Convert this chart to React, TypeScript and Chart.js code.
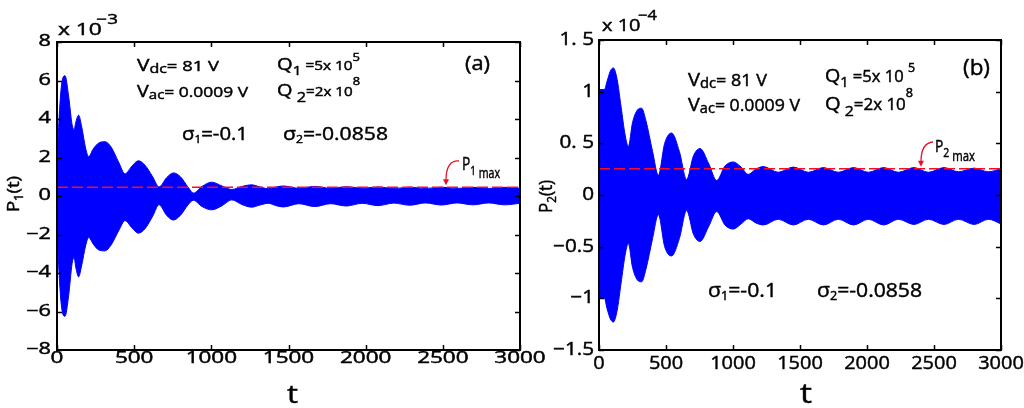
import React, { useEffect, useRef } from 'react';
import { Chart, registerables } from 'chart.js';

Chart.register(...registerables);

const FONT = '"Open Sans", "DejaVu Sans", sans-serif';

// ---------------- Panel (a): P1(t), units of 1e-3 ----------------
const tA = [0, 12, 30, 52, 75, 98, 110, 124, 140, 160, 185, 205, 235, 270, 311, 350, 400, 441, 485, 527, 570, 620, 661, 710, 754, 800, 850, 883, 940, 1002, 1070, 1132, 1200, 1261, 1315, 1368, 1420, 1466, 1568, 1670, 1772, 1875, 1977, 2080, 2182, 2285, 2387, 2490, 2592, 2695, 2797, 2900, 3000];
const upperA = [1.5, 3.8, 5.8, 6.25, 5.2, 3.7, 3.45, 3.9, 4.2, 3.6, 2.5, 2.05, 2.45, 2.75, 2.82, 2.55, 1.75, 1.15, 1.55, 1.83, 1.6, 1.0, 0.47, 0.95, 1.2, 1.0, 0.45, 0.15, 0.5, 0.72, 0.52, 0.34, 0.5, 0.58, 0.47, 0.38, 0.47, 0.52, 0.4, 0.5, 0.4, 0.48, 0.4, 0.47, 0.39, 0.46, 0.39, 0.46, 0.39, 0.45, 0.39, 0.45, 0.4];
const lowerA = [-1.5, -3.8, -5.8, -6.25, -5.2, -3.5, -3.2, -3.8, -4.2, -3.6, -2.6, -2.15, -2.5, -2.8, -2.85, -2.55, -1.8, -1.28, -1.65, -1.93, -1.7, -1.05, -0.45, -1.0, -1.25, -1.0, -0.45, -0.22, -0.55, -0.72, -0.5, -0.2, -0.45, -0.58, -0.47, -0.38, -0.5, -0.57, -0.4, -0.55, -0.4, -0.52, -0.38, -0.5, -0.37, -0.48, -0.36, -0.47, -0.36, -0.46, -0.36, -0.46, -0.38];
const pmaxA = 0.46;

// ---------------- Panel (b): P2(t), units of 1e-4 ----------------
const tB = [0, 40, 60, 85, 107, 135, 165, 195, 219, 250, 285, 318, 350, 400, 443, 490, 542, 600, 654, 705, 754, 820, 878, 940, 1002, 1060, 1114, 1170, 1226, 1338, 1450, 1562, 1675, 1786, 1900, 2010, 2125, 2234, 2350, 2458, 2575, 2682, 2800, 2906, 3000];
const upperB = [1.02, 1.02, 1.1, 1.2, 1.23, 1.12, 0.85, 0.58, 0.47, 0.7, 0.82, 0.84, 0.72, 0.42, 0.19, 0.5, 0.6, 0.42, 0.15, 0.38, 0.45, 0.3, 0.14, 0.28, 0.32, 0.27, 0.2, 0.25, 0.275, 0.22, 0.27, 0.22, 0.265, 0.22, 0.265, 0.22, 0.265, 0.22, 0.265, 0.22, 0.265, 0.225, 0.26, 0.225, 0.255];
const lowerB = [-1.0, -1.0, -1.1, -1.2, -1.23, -1.12, -0.85, -0.58, -0.47, -0.7, -0.82, -0.84, -0.72, -0.42, -0.19, -0.5, -0.59, -0.42, -0.15, -0.38, -0.45, -0.3, -0.16, -0.29, -0.33, -0.28, -0.23, -0.27, -0.29, -0.235, -0.29, -0.235, -0.29, -0.235, -0.29, -0.235, -0.29, -0.235, -0.285, -0.235, -0.285, -0.235, -0.285, -0.235, -0.28];
const pmaxB = 0.255;

// ---------------- Axes ----------------
const xTicks = [0, 500, 1000, 1500, 2000, 2500, 3000];
const xTickLabels = ['0', '500', '1000', '1500', '2000', '2500', '3000'];
const yTicksA = [-8, -6, -4, -2, 0, 2, 4, 6, 8];
const yTickLabelsA = ['−8', '−6', '−4', '−2', '0', '2', '4', '6', '8'];
const yTicksB = [-1.5, -1, -0.5, 0, 0.5, 1, 1.5];
const yTickLabelsB = ['−1.5', '−1', '−0.5', '0', '0. 5', '1', '1. 5'];

type Seg = { t: string; s: number; dy?: number; dx?: number };
type Label = { x: number; y: number; w?: number; rot?: boolean; color?: string; segs: Seg[] };

type PanelCfg = {
  t: number[];
  upper: number[];
  lower: number[];
  pmax: number;
  yMin: number;
  yMax: number;
  yTicks: number[];
  yTickLabels: string[];
  padding: { left: number; right: number; top: number; bottom: number };
  yTickRight: number;
  yTickSize: number;
  yTickSx: number;
  xTickY: number;
  xTickSize: number;
  xTickSx: number;
  labels: Label[];
  arrow: { sx: number; sy: number; cx: number; cy: number; ex: number };
};

const labelsA: Label[] = [
  { x: 58, y: 35, w: 60, segs: [{ t: 'x 10', s: 17 }, { t: '−3', s: 14, dy: -11, dx: -4 }] },
  { x: 137, y: 71, w: 82, segs: [{ t: 'V', s: 17 }, { t: 'dc', s: 13, dy: 2 }, { t: '= 81 V', s: 15 }] },
  { x: 137, y: 97, w: 111, segs: [{ t: 'V', s: 17 }, { t: 'ac', s: 13, dy: 2 }, { t: '= 0.0009 V', s: 15 }] },
  { x: 277, y: 70, w: 83, segs: [{ t: 'Q', s: 17 }, { t: '1', s: 13, dy: 5 }, { t: ' =5x 10', s: 13 }, { t: '5', s: 11, dy: -9 }] },
  { x: 277, y: 96, w: 83, segs: [{ t: 'Q', s: 17 }, { t: ' 2', s: 14, dy: 6 }, { t: '=2x 10', s: 13 }, { t: '8', s: 11, dy: -11 }] },
  { x: 465, y: 70, w: 25, segs: [{ t: '(a)', s: 20 }] },
  { x: 182, y: 140, w: 66, segs: [{ t: 'σ', s: 19 }, { t: '1', s: 11, dy: 3 }, { t: '=-0.1', s: 19 }] },
  { x: 283, y: 140, w: 105, segs: [{ t: 'σ', s: 19 }, { t: '2', s: 11, dy: 3 }, { t: '=-0.0858', s: 19 }] },
  { x: 462, y: 170, w: 38, segs: [{ t: 'P', s: 18 }, { t: '1', s: 13, dy: 5 }, { t: ' max', s: 14, dy: 8 }] },
  { x: 19, y: 212, w: 36, rot: true, segs: [{ t: 'P', s: 17 }, { t: '1', s: 12, dy: 4 }, { t: '(t)', s: 17 }] },
  { x: 287, y: 403, w: 11, segs: [{ t: 't', s: 25 }] },
];

const labelsB: Label[] = [
  { x: 602, y: 31, w: 55, segs: [{ t: 'x 10', s: 17 }, { t: '−4', s: 14, dy: -11, dx: -2 }] },
  { x: 688, y: 86, w: 79, segs: [{ t: 'V', s: 19 }, { t: 'dc', s: 14, dy: 2 }, { t: '= 81 V', s: 17 }] },
  { x: 688, y: 111, w: 112, segs: [{ t: 'V', s: 19 }, { t: 'ac', s: 14, dy: 2 }, { t: '= 0.0009 V', s: 17 }] },
  { x: 825, y: 82, w: 90, segs: [{ t: 'Q', s: 19 }, { t: '1', s: 14, dy: 5 }, { t: ' =5x 10 ', s: 16 }, { t: '5', s: 12, dy: -10 }] },
  { x: 825, y: 110, w: 88, segs: [{ t: 'Q', s: 19 }, { t: ' 2', s: 15, dy: 6 }, { t: '=2x 10', s: 16 }, { t: '8', s: 12, dy: -13 }] },
  { x: 963, y: 75, w: 27, segs: [{ t: '(b)', s: 22 }] },
  { x: 708, y: 297, w: 69, segs: [{ t: 'σ', s: 20 }, { t: '1', s: 12, dy: 3 }, { t: '=-0.1', s: 20 }] },
  { x: 817, y: 297, w: 105, segs: [{ t: 'σ', s: 20 }, { t: '2', s: 12, dy: 3 }, { t: '=-0.0858', s: 20 }] },
  { x: 935, y: 152, w: 40, segs: [{ t: 'P', s: 17 }, { t: '2', s: 13, dy: 5 }, { t: ' max', s: 14, dy: 9 }] },
  { x: 552, y: 213, w: 33, rot: true, segs: [{ t: 'P', s: 19 }, { t: '2', s: 13, dy: 4 }, { t: '(t)', s: 19 }] },
  { x: 800, y: 403, w: 12, segs: [{ t: 't', s: 27 }] },
];

const panelA: PanelCfg = {
  t: tA, upper: upperA, lower: lowerA, pmax: pmaxA, yMin: -8, yMax: 8,
  yTicks: yTicksA, yTickLabels: yTickLabelsA,
  padding: { left: 57, right: 504, top: 42, bottom: 58 },
  yTickRight: 51, yTickSize: 15.5, yTickSx: 1.4,
  xTickY: 359, xTickSize: 15.5, xTickSx: 1.45,
  labels: labelsA,
  arrow: { sx: 459, sy: 161, cx: 446, cy: 160, ex: 446 },
};

const panelB: PanelCfg = {
  t: tB, upper: upperB, lower: lowerB, pmax: pmaxB, yMin: -1.5, yMax: 1.5,
  yTicks: yTicksB, yTickLabels: yTickLabelsB,
  padding: { left: 599, right: 23, top: 40, bottom: 58 },
  yTickRight: 594, yTickSize: 18, yTickSx: 1.15,
  xTickY: 364, xTickSize: 19, xTickSx: 1.05,
  labels: labelsB,
  arrow: { sx: 933, sy: 142, cx: 921, cy: 143, ex: 921 },
};

const TEXT_STROKE = 0.45;

function drawRich(ctx: CanvasRenderingContext2D, lab: Label) {
  ctx.save();
  let nat = 0;
  for (const s of lab.segs) {
    ctx.font = `${s.s}px ${FONT}`;
    nat += (s.dx || 0) + ctx.measureText(s.t).width;
  }
  const sx = lab.w ? lab.w / nat : 1;
  ctx.translate(lab.x, lab.y);
  if (lab.rot) ctx.rotate(-Math.PI / 2);
  ctx.scale(sx, 1);
  ctx.fillStyle = lab.color || '#000';
  ctx.strokeStyle = lab.color || '#000';
  ctx.lineWidth = TEXT_STROKE;
  ctx.textAlign = 'left';
  ctx.textBaseline = 'alphabetic';
  let cx = 0;
  for (const s of lab.segs) {
    ctx.font = `${s.s}px ${FONT}`;
    cx += s.dx || 0;
    ctx.fillText(s.t, cx, s.dy || 0);
    ctx.strokeText(s.t, cx, s.dy || 0);
    cx += ctx.measureText(s.t).width;
  }
  ctx.restore();
}

function drawTick(ctx: CanvasRenderingContext2D, text: string, x: number, y: number, size: number, sx: number, align: CanvasTextAlign) {
  ctx.save();
  ctx.translate(x, y);
  ctx.scale(sx, 1);
  ctx.font = `${size}px ${FONT}`;
  ctx.fillStyle = '#000';
  ctx.strokeStyle = '#000';
  ctx.lineWidth = TEXT_STROKE;
  ctx.textAlign = align;
  ctx.textBaseline = 'middle';
  ctx.fillText(text, 0, 0);
  ctx.strokeText(text, 0, 0);
  ctx.restore();
}

function makePlugin(cfg: PanelCfg) {
  return {
    id: 'matlabFrame',
    afterDraw(chart: any) {
      const ctx: CanvasRenderingContext2D = chart.ctx;
      const xs = chart.scales.x;
      const ys = chart.scales.y;
      const { left, right, top, bottom } = chart.chartArea;
      const TL = 5;
      ctx.save();
      ctx.strokeStyle = '#000';
      ctx.lineWidth = 1.5;
      ctx.beginPath();
      xTicks.forEach((v) => {
        const px = Math.round(xs.getPixelForValue(v)) + 0.5;
        ctx.moveTo(px, bottom); ctx.lineTo(px, bottom - TL);
        ctx.moveTo(px, top); ctx.lineTo(px, top + TL);
      });
      cfg.yTicks.forEach((v) => {
        const py = Math.round(ys.getPixelForValue(v)) + 0.5;
        ctx.moveTo(left, py); ctx.lineTo(left + TL, py);
        ctx.moveTo(right, py); ctx.lineTo(right - TL, py);
      });
      ctx.stroke();
      ctx.lineWidth = 2;
      ctx.strokeRect(left, top, right - left, bottom - top);
      ctx.restore();

      xTicks.forEach((v, i) => {
        drawTick(ctx, xTickLabels[i], xs.getPixelForValue(v), cfg.xTickY, cfg.xTickSize, cfg.xTickSx, 'center');
      });
      cfg.yTicks.forEach((v, i) => {
        drawTick(ctx, cfg.yTickLabels[i], cfg.yTickRight, ys.getPixelForValue(v), cfg.yTickSize, cfg.yTickSx, 'right');
      });

      cfg.labels.forEach((l) => drawRich(ctx, l));

      // red arrow pointing at the Pmax line
      const yp = ys.getPixelForValue(cfg.pmax);
      const tipY = yp - 2;
      const a = cfg.arrow;
      ctx.save();
      ctx.strokeStyle = '#e8102a';
      ctx.fillStyle = '#e8102a';
      ctx.lineWidth = 1.3;
      ctx.beginPath();
      ctx.moveTo(a.sx, a.sy);
      ctx.quadraticCurveTo(a.cx, a.cy, a.ex, tipY - 5);
      ctx.stroke();
      ctx.beginPath();
      ctx.moveTo(a.ex - 3, tipY - 6);
      ctx.lineTo(a.ex + 3, tipY - 6);
      ctx.lineTo(a.ex, tipY);
      ctx.closePath();
      ctx.fill();
      ctx.restore();
    },
  };
}

function Panel({ cfg }: { cfg: PanelCfg }) {
  const ref = useRef<HTMLCanvasElement | null>(null);
  useEffect(() => {
    if (!ref.current) return;
    const up = cfg.t.map((x, i) => ({ x, y: cfg.upper[i] }));
    const lo = cfg.t.map((x, i) => ({ x, y: cfg.lower[i] }));
    const pm = [{ x: xTicks[0], y: cfg.pmax }, { x: xTicks[xTicks.length - 1], y: cfg.pmax }];
    const chart = new Chart(ref.current, {
      type: 'line',
      data: {
        datasets: [
          {
            data: up, borderColor: '#0000ff', backgroundColor: '#0000ff', borderWidth: 1,
            pointRadius: 0, fill: '+1', tension: 0.4, cubicInterpolationMode: 'monotone', order: 2,
          },
          {
            data: lo, borderColor: '#0000ff', backgroundColor: '#0000ff', borderWidth: 1,
            pointRadius: 0, fill: false, tension: 0.4, cubicInterpolationMode: 'monotone', order: 2,
          },
          {
            data: pm, borderColor: '#ff0a1e', borderWidth: 1.5, borderDash: [11, 4],
            pointRadius: 0, fill: false, tension: 0, order: 0,
          },
        ],
      } as any,
      options: {
        animation: false,
        responsive: false,
        maintainAspectRatio: false,
        layout: { padding: cfg.padding },
        plugins: { legend: { display: false }, tooltip: { enabled: false } },
        events: [],
        scales: {
          x: { type: 'linear', min: 0, max: 3000, display: false },
          y: { type: 'linear', min: cfg.yMin, max: cfg.yMax, display: false },
        },
      } as any,
      plugins: [makePlugin(cfg)],
    });
    return () => chart.destroy();
  }, [cfg]);
  return (
    <canvas
      ref={ref}
      width={1024}
      height={408}
      style={{ position: 'absolute', left: 0, top: 0, width: 1024, height: 408 }}
    />
  );
}

export default function App() {
  return (
    <div style={{ position: 'absolute', left: 0, top: 0, width: 1024, height: 408, background: '#fff', overflow: 'hidden' }}>
      <Panel cfg={panelA} />
      <Panel cfg={panelB} />
    </div>
  );
}
